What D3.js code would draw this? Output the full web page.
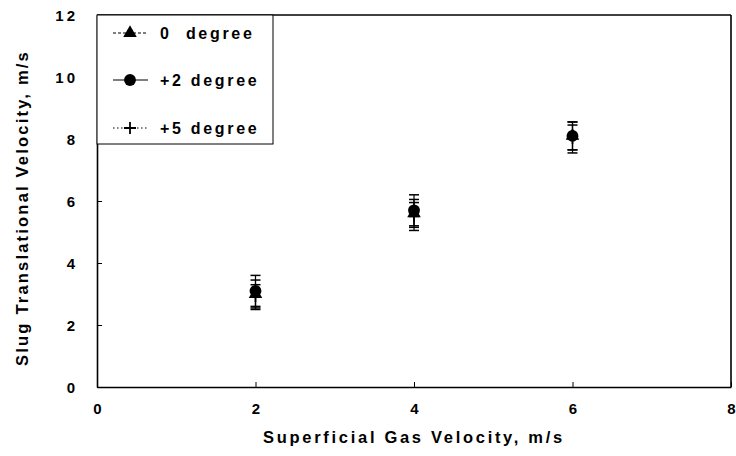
<!DOCTYPE html>
<html><head><meta charset="utf-8">
<script src="https://cdn.jsdelivr.net/npm/d3@7"></script>
<style>body{margin:0;background:#fff}svg{display:block}</style>
</head><body><svg id="c" width="736" height="456"></svg>
<script>
const categories = [2, 4, 6];
const seriesNames = ["0  degree", "+2 degree", "+5 degree"];
const deg0 = [3.0, 5.6, 8.1];
const deg0Err = [0.45, 0.45, 0.45];
const deg2 = [3.1, 5.7, 8.1];
const deg2Err = [0.5, 0.5, 0.45];
const deg5 = [2.9, 5.5, 8.0];
const deg5Err = [0.4, 0.45, 0.45];
const xTicks = [0, 2, 4, 6, 8];
const yTicks = [0, 2, 4, 6, 8, 10, 12];

const svg = d3.select("#c");
const m = {l: 97, r: 5, t: 15, b: 69};
const W = 736, H = 456;
const x = d3.scaleLinear().domain([0, 8]).range([m.l, W - m.r]);
const y = d3.scaleLinear().domain([0, 12]).range([H - m.b, m.t]);

const font = "Arial, 'Liberation Sans', sans-serif";

// axes with inward ticks
const xa = svg.append("g").attr("transform", `translate(0,${y(0)})`)
  .call(d3.axisBottom(x).tickValues(xTicks).tickSizeInner(-5).tickSizeOuter(0).tickPadding(16));
const ya = svg.append("g").attr("transform", `translate(${x(0)},0)`)
  .call(d3.axisLeft(y).tickValues(yTicks).tickSizeInner(-5).tickSizeOuter(0).tickPadding(19));
[xa, ya].forEach(g => {
  g.select(".domain").attr("stroke", "#000").attr("stroke-width", 1.6);
  g.selectAll(".tick line").attr("stroke", "#000").attr("stroke-width", 1);
  g.selectAll(".tick text").attr("font-family", font).attr("font-weight", "bold")
    .attr("font-size", 15).attr("fill", "#000");
});
ya.selectAll(".tick text").attr("dy", "0.35em").style("letter-spacing", "3px");
// frame top and right
svg.append("line").attr("x1", x(0)).attr("x2", x(8)).attr("y1", y(12)).attr("y2", y(12))
  .attr("stroke", "#000").attr("stroke-width", 1.6);
svg.append("line").attr("x1", x(8)).attr("x2", x(8)).attr("y1", y(12)).attr("y2", y(0))
  .attr("stroke", "#000").attr("stroke-width", 1.6);

// axis titles
svg.append("text").attr("x", (x(0) + x(8)) / 2).attr("y", 443).attr("text-anchor", "middle")
  .attr("font-family", font).attr("font-weight", "bold").attr("font-size", 16.5)
  .style("letter-spacing", "2.7px").text("Superficial Gas Velocity, m/s");
svg.append("text").attr("transform", `translate(28,${(y(0) + y(12)) / 2 + 7}) rotate(-90)`)
  .attr("text-anchor", "middle")
  .attr("font-family", font).attr("font-weight", "bold").attr("font-size", 16.5)
  .style("letter-spacing", "2.2px").text("Slug Translational Velocity, m/s");

const series = [
  {name: seriesNames[0], vals: deg0, err: deg0Err, sym: d3.symbolTriangle, size: 80, dash: "3,2"},
  {name: seriesNames[1], vals: deg2, err: deg2Err, sym: d3.symbolCircle, size: 110, dash: null},
  {name: seriesNames[2], vals: deg5, err: deg5Err, sym: d3.symbolCross, size: 60, dash: "1.5,2.5"}
];

const plot = svg.append("g");
series.forEach(s => {
  const g = plot.append("g");
  categories.forEach((c, i) => {
    const cx = x(c), v = s.vals[i], e = s.err[i];
    g.append("line").attr("x1", cx).attr("x2", cx).attr("y1", y(v - e)).attr("y2", y(v + e))
      .attr("stroke", "#000").attr("stroke-width", 1.2);
    [v - e, v + e].forEach(t => g.append("line").attr("x1", cx - 5).attr("x2", cx + 5)
      .attr("y1", y(t)).attr("y2", y(t)).attr("stroke", "#000").attr("stroke-width", 1.5));
    if (s.sym === d3.symbolCross) {
      g.append("path").attr("d", `M${cx - 5},${y(v)}H${cx + 5}M${cx},${y(v) - 5}V${y(v) + 5}`)
        .attr("stroke", "#000").attr("stroke-width", 1.6);
    } else {
      g.append("path").attr("d", d3.symbol(s.sym, s.size)()).attr("transform", `translate(${cx},${y(v)})`)
        .attr("fill", "#000");
    }
  });
});

// legend
const lg = svg.append("g");
lg.append("rect").attr("x", x(0)).attr("y", y(12)).attr("width", 176).attr("height", 129)
  .attr("fill", "#fff").attr("stroke", "#000").attr("stroke-width", 1);
const ly = [33, 80, 128];
series.forEach((s, i) => {
  lg.append("line").attr("x1", 113).attr("x2", 148).attr("y1", ly[i]).attr("y2", ly[i])
    .attr("stroke", "#000").attr("stroke-width", 1.2).attr("stroke-dasharray", s.dash);
  if (s.sym === d3.symbolCross) {
    lg.append("path").attr("d", `M124,${ly[i]}H136M130,${ly[i] - 6}V${ly[i] + 6}`)
      .attr("stroke", "#000").attr("stroke-width", 1.8);
  } else {
    lg.append("path").attr("d", d3.symbol(s.sym, s.size)()).attr("transform", `translate(130,${ly[i]})`)
      .attr("fill", "#000");
  }
  lg.append("text").attr("x", 160).attr("y", ly[i]).attr("dy", "0.35em")
    .attr("font-family", font).attr("font-size", 16).attr("font-weight", "bold")
    .style("letter-spacing", "2.7px").style("white-space", "pre").text(s.name);
});
</script></body></html>
